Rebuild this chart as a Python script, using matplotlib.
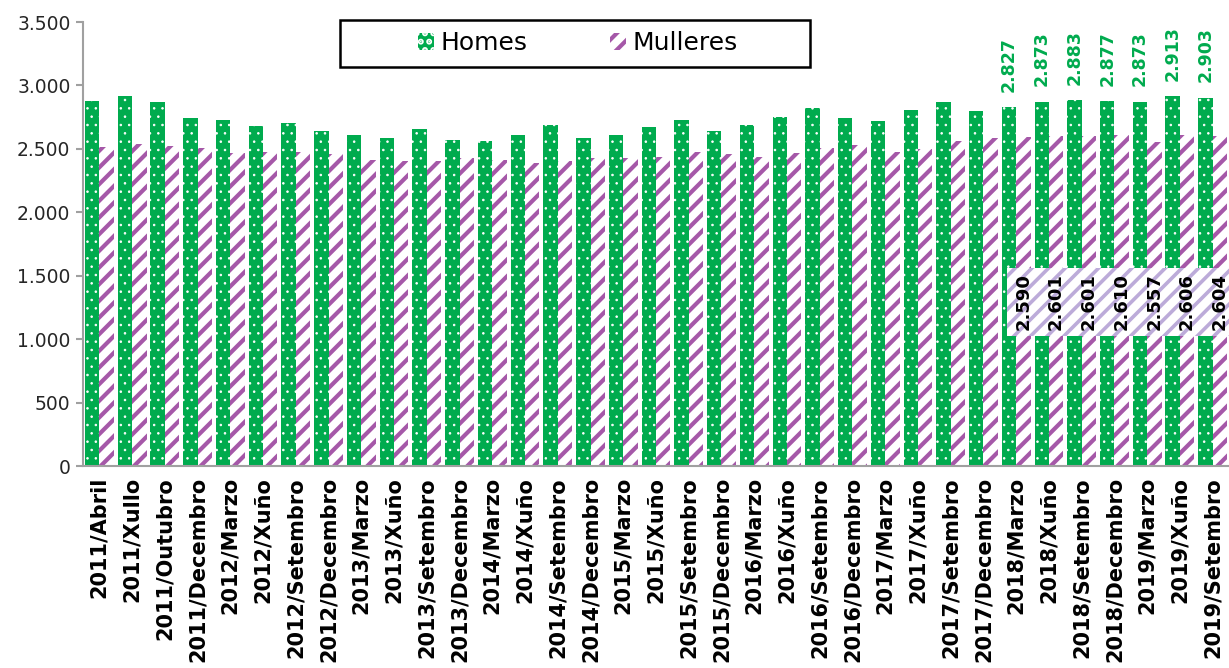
import numpy as np
import matplotlib.pyplot as plt
from matplotlib.patches import Rectangle
from matplotlib.ticker import FuncFormatter

periodos = ['2011/Abril', '2011/Xullo', '2011/Outubro', '2011/Decembro',
            '2012/Marzo', '2012/Xuño', '2012/Setembro', '2012/Decembro',
            '2013/Marzo', '2013/Xuño', '2013/Setembro', '2013/Decembro',
            '2014/Marzo', '2014/Xuño', '2014/Setembro', '2014/Decembro',
            '2015/Marzo', '2015/Xuño', '2015/Setembro', '2015/Decembro',
            '2016/Marzo', '2016/Xuño', '2016/Setembro', '2016/Decembro',
            '2017/Marzo', '2017/Xuño', '2017/Setembro', '2017/Decembro',
            '2018/Marzo', '2018/Xuño', '2018/Setembro', '2018/Decembro',
            '2019/Marzo', '2019/Xuño', '2019/Setembro']

homes = [2876, 2913, 2868, 2747, 2726, 2679, 2705, 2637, 2613, 2587,
         2653, 2566, 2558, 2608, 2687, 2584, 2613, 2671, 2729, 2637,
         2689, 2755, 2822, 2742, 2721, 2803, 2866, 2800,
         2827, 2873, 2883, 2877, 2873, 2913, 2903]

mulleres = [2518, 2540, 2526, 2508, 2468, 2476, 2476, 2463, 2413, 2408,
            2405, 2429, 2410, 2389, 2405, 2429, 2424, 2437, 2474, 2460,
            2434, 2468, 2503, 2529, 2479, 2500, 2561, 2582,
            2590, 2601, 2601, 2610, 2557, 2606, 2604]

# only the latest quarters carry value labels
n_etiquetas = 7

verde = '#00AB4E'
morado = '#A558A8'
lavanda = '#BCABD9'


def miles(v, pos=None):
    return f'{int(v):,}'.replace(',', '.')


def grosor_trama(barras, lw):
    for p in barras:
        if hasattr(p, 'set_hatch_linewidth'):
            p.set_hatch_linewidth(lw)


plt.rcParams['font.family'] = 'DejaVu Sans'
plt.rcParams['hatch.linewidth'] = 3.0

fig = plt.figure(figsize=(12.29, 6.68), dpi=100)
ax = fig.add_axes([83 / 1229, 202 / 668, 1146 / 1229, 444 / 668])

x = np.arange(len(periodos))
w = 0.44

with plt.rc_context({'hatch.linewidth': 0.6}):
    b_h = ax.bar(x - w / 2, homes, w, color=verde, edgecolor='white',
                 linewidth=0, hatch='..', label='Homes', zorder=2)
grosor_trama(b_h, 0.6)

with plt.rc_context({'hatch.linewidth': 3.0}):
    b_m = ax.bar(x + w / 2, mulleres, w, color='white', edgecolor=morado,
                 linewidth=0, hatch='//', label='Mulleres', zorder=2)
grosor_trama(b_m, 3.0)

# value labels for men, above the bars
for i in range(len(periodos) - n_etiquetas, len(periodos)):
    ax.annotate(miles(homes[i]), (x[i] - w / 2, homes[i]),
                xytext=(0, 11), textcoords='offset points',
                ha='center', va='bottom', rotation=90,
                fontsize=12.5, fontweight='bold', color=verde)

# value labels for women, on a striped band across the bars
i0 = len(periodos) - n_etiquetas
with plt.rc_context({'hatch.linewidth': 2.6}):
    banda = Rectangle((i0 - 0.28, 1026), len(periodos) - 0.5 - (i0 - 0.28), 537,
                      facecolor='white', edgecolor=lavanda, linewidth=0,
                      hatch='//', zorder=3, clip_on=False)
if hasattr(banda, 'set_hatch_linewidth'):
    banda.set_hatch_linewidth(2.6)
ax.add_patch(banda)
for i in range(i0, len(periodos)):
    ax.text(x[i] + w / 2, 1300, miles(mulleres[i]), rotation=90,
            ha='center', va='center', fontsize=13, fontweight='bold',
            color='black', zorder=4)

ax.set_xlim(-0.5, len(periodos) - 0.5)
ax.set_ylim(0, 3500)
ax.set_yticks(range(0, 3501, 500))
ax.yaxis.set_major_formatter(FuncFormatter(miles))
ax.set_xticks(x)
ax.set_xticklabels(periodos, rotation=90, fontsize=15, fontweight='bold')

ax.tick_params(axis='y', labelsize=13.5, labelcolor='#262626',
               length=5, width=1.5, color='#A0A0A0', pad=4)
ax.tick_params(axis='x', length=0, pad=8, labelcolor='black')

for lado in ['top', 'right']:
    ax.spines[lado].set_visible(False)
for lado in ['left', 'bottom']:
    ax.spines[lado].set_color('#A0A0A0')
    ax.spines[lado].set_linewidth(1.5)

# legend with its own rectangular frame
marco = Rectangle((0.2243, 0.8986), 0.4101, 0.1059, transform=ax.transAxes,
                  facecolor='white', edgecolor='black', linewidth=1.8,
                  zorder=5, clip_on=False)
ax.add_patch(marco)
leg = ax.legend(loc='center', bbox_to_anchor=(0.432, 0.9516), ncol=2,
                frameon=False, fontsize=18, handlelength=0.65,
                handleheight=0.65, handletextpad=0.25, columnspacing=3.3,
                borderpad=0)
leg.set_zorder(6)

fig.savefig('out.png', dpi=100)
